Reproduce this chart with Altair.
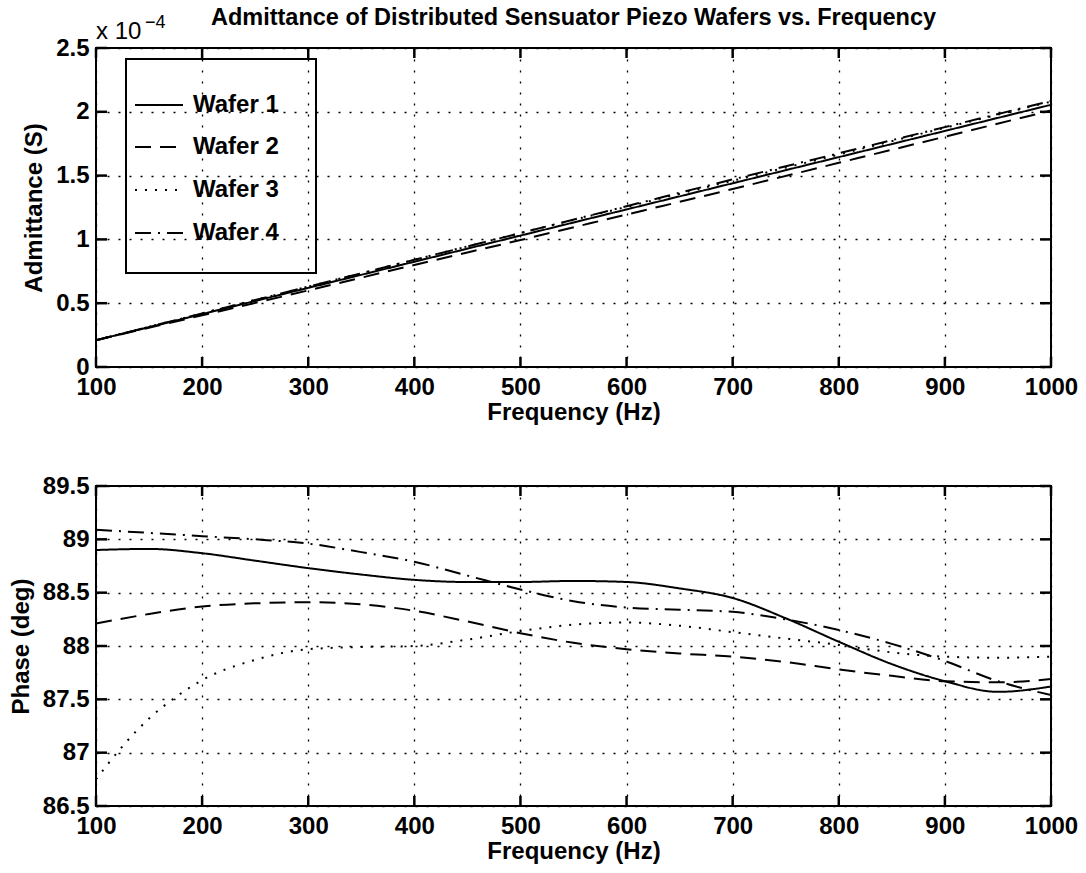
import altair as alt
import pandas as pd

FONT = "Liberation Sans"

wafers = ["Wafer 1", "Wafer 2", "Wafer 3", "Wafer 4"]
dashes = [[1, 0], [16, 9], [2, 8], [16, 7, 2, 7]]

# Admittance (units of 1e-4 S)
adm_freq = [100, 200, 300, 400, 500, 600, 700, 800, 900, 1000]
adm_w1 = [0.21, 0.415, 0.62, 0.825, 1.03, 1.235, 1.44, 1.645, 1.85, 2.055]
adm_w2 = [0.21, 0.405, 0.60, 0.80, 0.995, 1.195, 1.395, 1.60, 1.805, 2.01]
adm_w3 = [0.21, 0.42, 0.63, 0.84, 1.05, 1.255, 1.46, 1.665, 1.875, 2.08]
adm_w4 = [0.21, 0.42, 0.63, 0.84, 1.05, 1.26, 1.47, 1.675, 1.88, 2.085]

# Phase (deg)
phase_freq = [100, 150, 200, 250, 300, 350, 400, 450, 500, 550,
              600, 650, 700, 750, 800, 850, 900, 950, 1000]
phase_w1 = [88.90, 88.91, 88.87, 88.80, 88.73, 88.67, 88.62, 88.60, 88.60, 88.61,
            88.60, 88.54, 88.45, 88.26, 88.04, 87.83, 87.67, 87.57, 87.62]
phase_w2 = [88.21, 88.30, 88.37, 88.40, 88.41, 88.39, 88.33, 88.23, 88.12, 88.03,
            87.97, 87.93, 87.90, 87.85, 87.78, 87.72, 87.67, 87.66, 87.69]
phase_w3_freq = [100, 125, 150, 175, 200, 250, 300, 350, 400, 450, 500, 550,
                 600, 650, 700, 750, 800, 850, 900, 950, 1000]
phase_w3 = [86.75, 87.06, 87.32, 87.52, 87.68, 87.87, 87.97, 87.99, 88.00, 88.06, 88.14, 88.20,
            88.22, 88.19, 88.13, 88.07, 88.01, 87.94, 87.90, 87.89, 87.90]
phase_w4 = [89.09, 89.06, 89.03, 89.00, 88.96, 88.88, 88.79, 88.66, 88.53, 88.42,
            88.36, 88.34, 88.32, 88.25, 88.15, 88.02, 87.86, 87.67, 87.54]

x_ticks = [100, 200, 300, 400, 500, 600, 700, 800, 900, 1000]
adm_ticks = [0, 0.5, 1, 1.5, 2, 2.5]
phase_ticks = [86.5, 87, 87.5, 88, 88.5, 89, 89.5]

W = 955
H1 = 319
H2 = 320


def long_df(freqs_list, vals_list):
    rows = []
    for name, fr, vs in zip(wafers, freqs_list, vals_list):
        for f, v in zip(fr, vs):
            rows.append({"freq": f, "val": v, "wafer": name})
    return pd.DataFrame(rows)


adm_df = long_df([adm_freq] * 4, [adm_w1, adm_w2, adm_w3, adm_w4])
phase_df = long_df([phase_freq, phase_freq, phase_w3_freq, phase_freq],
                   [phase_w1, phase_w2, phase_w3, phase_w4])

xscale = alt.Scale(domain=[100, 1000], nice=False, zero=False)


def panel(df, ydomain, yticks, ytitle, h):
    yscale = alt.Scale(domain=ydomain, nice=False, zero=False)
    xaxis = alt.Axis(values=x_ticks, format="d", title="Frequency (Hz)",
                     grid=True, gridDash=[2, 9], gridColor="black", gridWidth=1.3,
                     gridOpacity=1, ticks=False, domain=False,
                     labelPadding=8, titlePadding=1,
                     labelFont=FONT, labelFontSize=24, labelFontWeight="bold",
                     labelColor="black", titleFont=FONT, titleFontSize=24,
                     titleFontWeight="bold", titleColor="black",
                     labelFlush=False, labelOverlap=False)
    yaxis = alt.Axis(values=yticks, format="~g", title=ytitle,
                     grid=True, gridDash=[2, 9], gridColor="black", gridWidth=1.3,
                     gridOpacity=1, ticks=False, domain=False,
                     labelPadding=7, titlePadding=9,
                     labelFont=FONT, labelFontSize=24, labelFontWeight="bold",
                     labelColor="black", titleFont=FONT, titleFontSize=24,
                     titleFontWeight="bold", titleColor="black",
                     labelFlush=False, labelOverlap=False)
    lines = alt.Chart(df).mark_line(color="black", strokeWidth=2,
                                    interpolate="monotone").encode(
        x=alt.X("freq:Q", scale=xscale, axis=xaxis),
        y=alt.Y("val:Q", scale=yscale, axis=yaxis),
        strokeDash=alt.StrokeDash("wafer:N", scale=alt.Scale(domain=wafers, range=dashes),
                                  legend=None),
        detail="wafer:N",
    )
    xt = pd.DataFrame({"freq": x_ticks})
    yt = pd.DataFrame({"val": yticks})
    tb = alt.Chart(xt).mark_rule(color="black", strokeWidth=2.5).encode(
        x=alt.X("freq:Q", scale=xscale), y=alt.value(h), y2=alt.value(h - 10))
    tt = alt.Chart(xt).mark_rule(color="black", strokeWidth=2.5).encode(
        x=alt.X("freq:Q", scale=xscale), y=alt.value(0), y2=alt.value(10))
    tl = alt.Chart(yt).mark_rule(color="black", strokeWidth=2.5).encode(
        y=alt.Y("val:Q", scale=yscale), x=alt.value(0), x2=alt.value(11))
    tr = alt.Chart(yt).mark_rule(color="black", strokeWidth=2.5).encode(
        y=alt.Y("val:Q", scale=yscale), x=alt.value(W - 11), x2=alt.value(W))
    return [lines, tb, tt, tl, tr]


dummy = pd.DataFrame({"a": [0]})

# legend (drawn inside the top panel)
legend_rows = [57, 99, 142, 185]
legend_layers = [
    alt.Chart(dummy).mark_rect(fillOpacity=0, stroke="black", strokeWidth=2).encode(
        x=alt.value(30), x2=alt.value(220), y=alt.value(11), y2=alt.value(225))
]
for name, d, ry in zip(wafers, dashes, legend_rows):
    legend_layers.append(
        alt.Chart(dummy).mark_rule(color="black", strokeWidth=2, strokeDash=d).encode(
            x=alt.value(39), x2=alt.value(87), y=alt.value(ry)))
    legend_layers.append(
        alt.Chart(dummy).mark_text(align="left", baseline="middle", font=FONT,
                                   fontSize=24, fontWeight="bold", color="black").encode(
            x=alt.value(97), y=alt.value(ry), text=alt.value(name)))

exp_layers = [
    alt.Chart(dummy).mark_text(align="left", baseline="alphabetic", font=FONT,
                               fontSize=24, color="black").encode(
        x=alt.value(0), y=alt.value(-9), text=alt.value("x 10")),
    alt.Chart(dummy).mark_text(align="left", baseline="alphabetic", font=FONT,
                               fontSize=18, color="black").encode(
        x=alt.value(49), y=alt.value(-20), text=alt.value("\u22124")),
]

top = alt.layer(*panel(adm_df, [0, 2.5], adm_ticks, "Admittance (S)", H1),
                *legend_layers, *exp_layers).properties(
    width=W, height=H1,
    title=alt.TitleParams("Admittance of Distributed Sensuator Piezo Wafers vs. Frequency",
                          font=FONT, fontSize=23.5, fontWeight="bold", color="black",
                          offset=-15, anchor="middle", frame="group"))

bottom = alt.layer(*panel(phase_df, [86.5, 89.5], phase_ticks, "Phase (deg)", H2)).properties(
    width=W, height=H2)

chart = alt.vconcat(top, bottom, spacing=48).properties(
    padding={"left": 8, "top": 4, "right": 5, "bottom": 2},
    background="white"
).configure_view(stroke="black", strokeWidth=2)

chart.save("out.html", embed_options={"renderer": "svg", "actions": False})
